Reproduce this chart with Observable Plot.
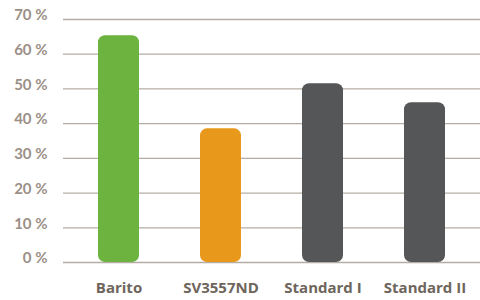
<!DOCTYPE html>
<html>
<head>
<meta charset="utf-8">
<script src="https://cdn.jsdelivr.net/npm/d3@7"></script>
<script src="https://cdn.jsdelivr.net/npm/@observablehq/plot@0.6"></script>
<style>
  html, body { margin: 0; padding: 0; background: #fff; }
  svg { display: block; }
</style>
</head>
<body>
<div id="chart"></div>
<script>
const categories = ["Barito", "SV3557ND", "Standard I", "Standard II"];
const values = [65.3, 38.5, 51.5, 46];
const colors = ["#6cb33f", "#e8991c", "#555658", "#555658"];
const yTicks = [0, 10, 20, 30, 40, 50, 60, 70];

const data = categories.map((c, i) => ({category: c, value: values[i], color: colors[i]}));

const chart = Plot.plot({
  width: 480,
  height: 300,
  marginLeft: 63,
  marginRight: 0,
  marginTop: 19,
  marginBottom: 38,
  style: {fontFamily: "Lato, 'Open Sans', sans-serif", background: "#fff"},
  x: {domain: categories, paddingInner: 0.6, paddingOuter: 0.34, label: null},
  y: {domain: [0, 70], label: null},
  marks: [
    Plot.ruleY(yTicks, {stroke: "#b5ada3", strokeWidth: 1.3}),
    Plot.barY(data, {x: "category", y: "value", fill: "color", rx: 7}),
    Plot.axisY(yTicks, {
      tickSize: 0, tickPadding: 16, dy: -4,
      tickFormat: d => d + " %",
      fontSize: 15, fontWeight: "bold", fill: "#9b9087"
    }),
    Plot.axisX({
      tickSize: 0, tickPadding: 20,
      fontSize: 15, fontWeight: "bold", fill: "#6e655c",
      fontFamily: "'Open Sans', sans-serif"
    })
  ]
});
document.getElementById("chart").append(chart);
</script>
</body>
</html>
